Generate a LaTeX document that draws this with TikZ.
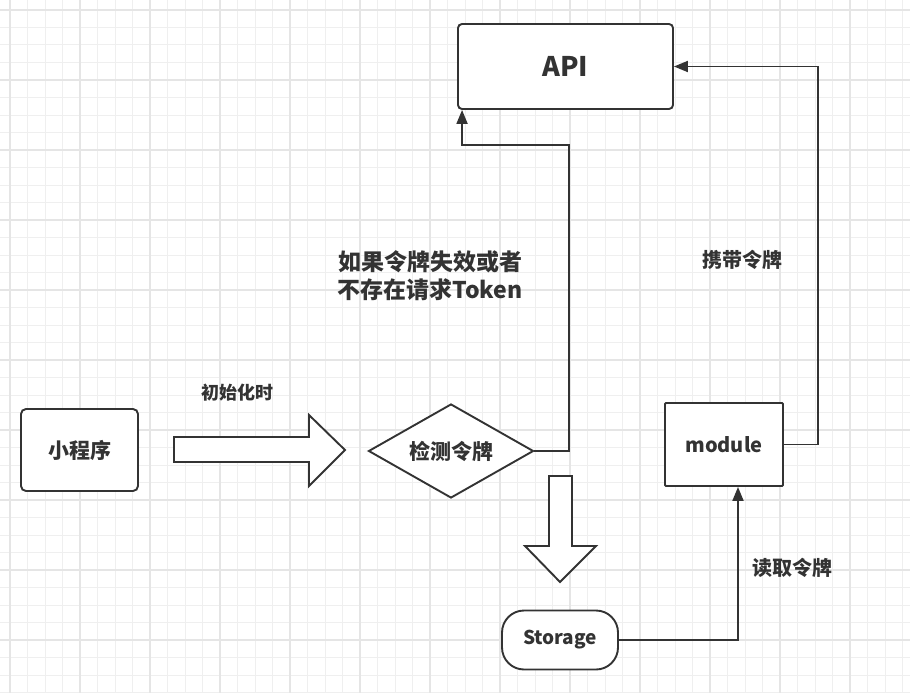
\documentclass[tikz,border=0pt]{standalone}
\usepackage{fontspec}
\setmainfont{Noto Sans CJK SC}
\usetikzlibrary{shapes.geometric,arrows.meta,calc}
\definecolor{ink}{HTML}{333333}
\definecolor{gridminor}{HTML}{EFEFEF}
\definecolor{gridmajor}{HTML}{E5E5E5}
\tikzset{
  shapebox/.style={draw=ink, line width=1.9pt, fill=white, inner sep=0pt, text=ink, font=\bfseries\fontsize{20}{24}\selectfont},
  conn/.style={draw=ink, line width=1.9pt, -{Triangle[length=14pt,width=11pt]}},
  blockarrow/.style={draw=ink, line width=1.9pt, fill=white, line join=miter},
  lbl/.style={text=ink, inner sep=0pt, align=center}
}
\begin{document}
\begin{tikzpicture}[x=1pt,y=-1pt]
\useasboundingbox (0,0) rectangle (910,693);
\fill[white] (0,0) rectangle (910,693);
% grid
\foreach \i in {0,...,52} {
  \draw[gridminor, line width=1pt] ({-7.5+17.5*\i},0) -- ({-7.5+17.5*\i},693);
}
\foreach \i in {0,...,40} {
  \draw[gridminor, line width=1pt] (0,{-7.5+17.5*\i}) -- (910,{-7.5+17.5*\i});
}
\foreach \i in {0,...,13} {
  \draw[gridmajor, line width=1.5pt] ({10+70*\i},0) -- ({10+70*\i},693);
}
\foreach \i in {0,...,9} {
  \draw[gridmajor, line width=1.5pt] (0,{10+70*\i}) -- (910,{10+70*\i});
}

% nodes
\node[shapebox, rounded corners=4pt, minimum width=215pt, minimum height=85pt,
      font=\bfseries\fontsize{27}{30}\selectfont] (api) at (565.5,66.5) {API};
\node[shapebox, rounded corners=5pt, minimum width=117pt, minimum height=82pt,
      font=\bfseries\fontsize{21}{24}\selectfont] (prog) at (79.5,450) {小程序};
\node[shapebox, diamond, aspect=2, minimum width=165pt, minimum height=94pt,
      font=\bfseries\fontsize{21}{24}\selectfont] (dia) at (451,451) {检测令牌};
\node[shapebox, rounded corners=1pt, minimum width=118pt, minimum height=83pt] (mod) at (724,444.5) {module};
\node[shapebox, rounded corners=22pt, minimum width=116pt, minimum height=59pt,
      font=\bfseries\fontsize{19}{22}\selectfont] (sto) at (560,640) {Storage};

% labels
\node[lbl, font=\bfseries\fontsize{18}{22}\selectfont] (linit) at (237,393) {初始化时};
\node[lbl, font=\bfseries\fontsize{23}{28}\selectfont] (lcheck) at (430,276) {如果令牌失效或者\\不存在请求Token};
\node[lbl, font=\bfseries\fontsize{20}{24}\selectfont] (lcarry) at (742,260) {携带令牌};
\node[lbl, font=\bfseries\fontsize{20}{24}\selectfont] (lread) at (792,568) {读取令牌};

% block arrows
\draw[blockarrow] (174,437) -- (309,437) -- (309,415) -- (345,450) -- (309,486) -- (309,462) -- (174,462) -- cycle;
\draw[blockarrow] (549,476) -- (572,476) -- (572,546) -- (596,546) -- (560,582) -- (525,546) -- (549,546) -- cycle;

% connectors
\coordinate (c1) at (569,145);
\draw[conn] (dia.east) -| (c1) -| ([xshift=5pt]api.south west);
\coordinate (c2) at (818,66.5);
\draw[conn] (mod.east) -| (c2) -- (api.east);
\draw[conn] (sto.east) -| ([xshift=14pt]mod.south);
\end{tikzpicture}
\end{document}
